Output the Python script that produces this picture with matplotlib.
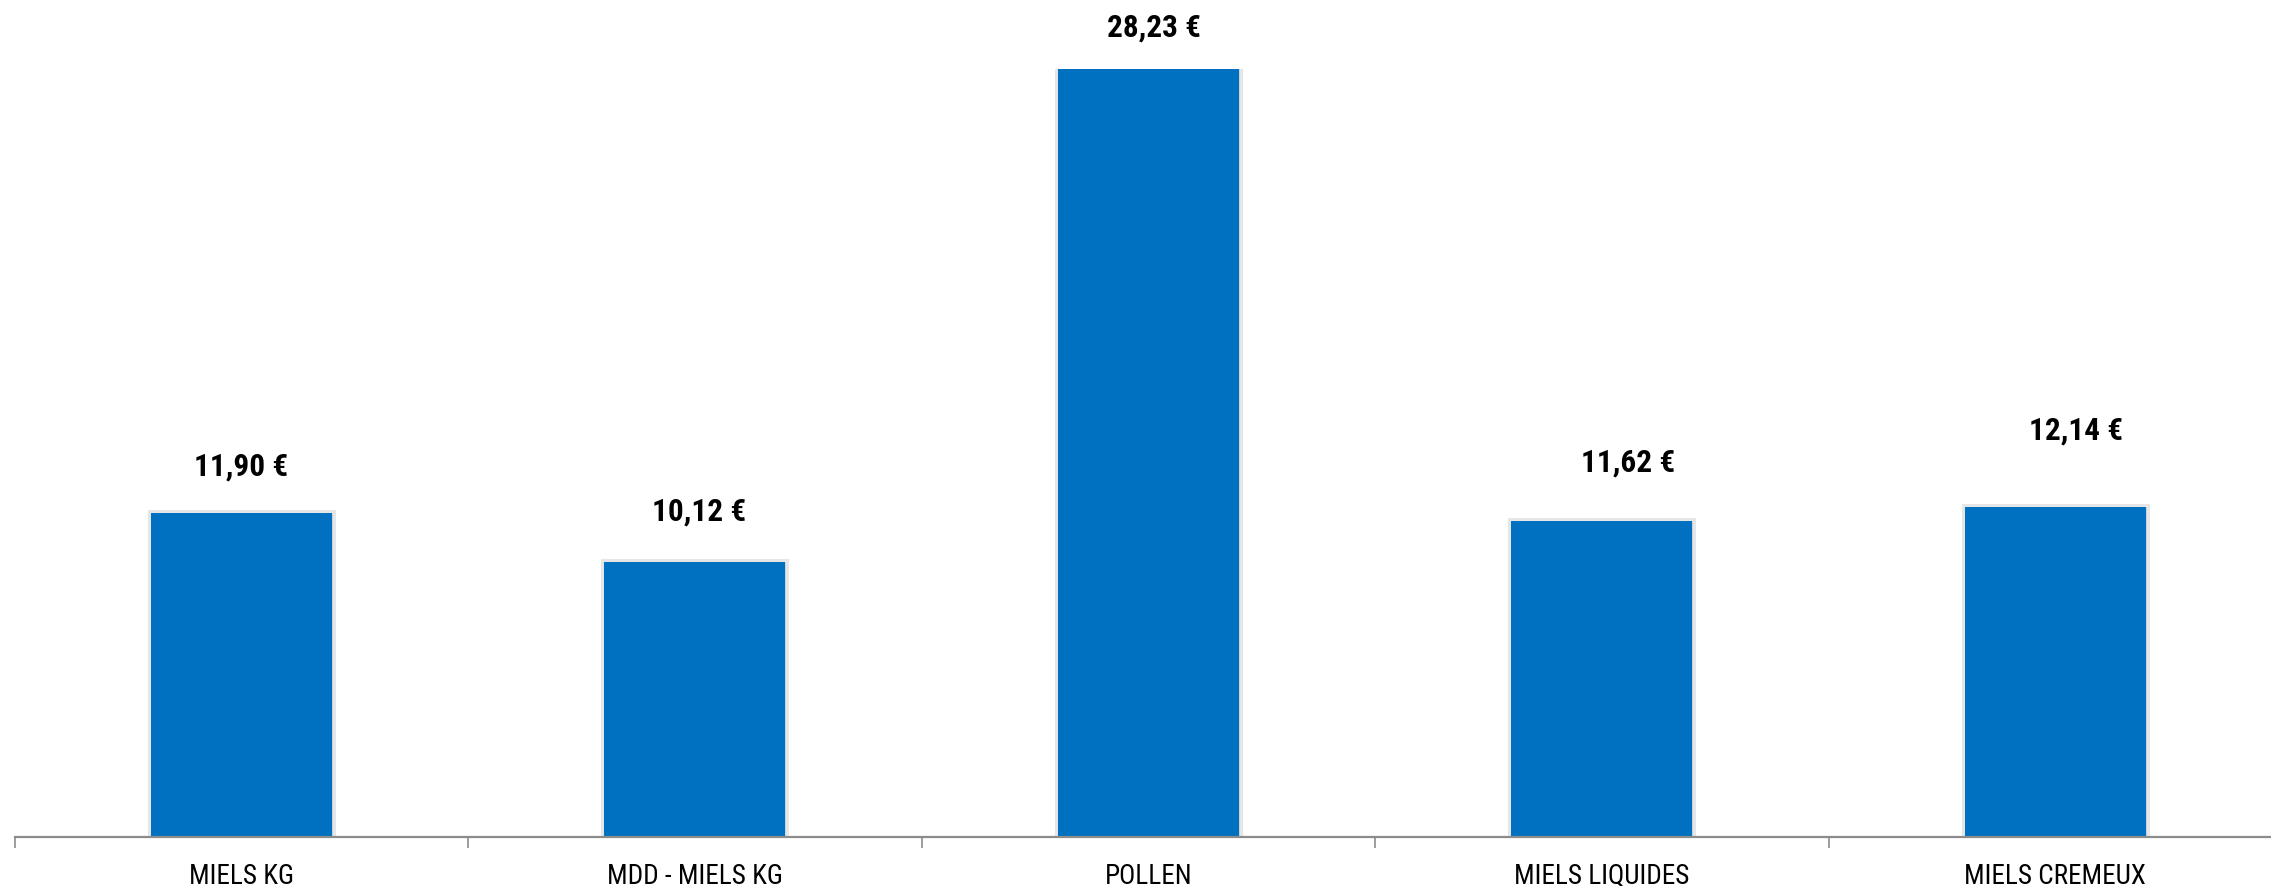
import matplotlib.pyplot as plt
import matplotlib.patheffects as pe
from matplotlib.ticker import FixedLocator, NullFormatter

plt.rcParams['font.family'] = ['Roboto Condensed', 'Roboto', 'DejaVu Sans']

# Average price per product family
categories = ["MIELS KG", "MDD - MIELS KG", "POLLEN", "MIELS LIQUIDES", "MIELS CREMEUX"]
prices = [11.90, 10.12, 28.23, 11.62, 12.14]
# label placement relative to the top of each bar, in points
label_dx = [0, 3, 4, 19, 15]
label_dy = [34, 36, 30, 42, 55]

fig = plt.figure(figsize=(22.71, 8.86), dpi=100)
ax = fig.add_axes((14.5 / 2271, 49 / 886, 5 * 453.5 / 2271, 768 / 886))

x = range(len(categories))
bars = ax.bar(x, prices, width=0.4, color="#0070C0", zorder=3,
              path_effects=[pe.Stroke(linewidth=5, foreground="#c8c8c8", alpha=0.45),
                            pe.Normal()])

for rect, val, dx, dy in zip(bars, prices, label_dx, label_dy):
    txt = f"{val:.2f}".replace(".", ",") + " €"
    ax.annotate(txt, (rect.get_x() + rect.get_width() / 2, val),
                xytext=(dx, dy), textcoords="offset points",
                ha="center", va="center", fontsize=22.5, fontweight="bold",
                color="black")

ax.set_xlim(-0.5, len(categories) - 0.5)
ax.set_ylim(0, 28.23)

for side in ("top", "right", "left"):
    ax.spines[side].set_visible(False)
ax.spines["bottom"].set_color("#8c8c8c")
ax.spines["bottom"].set_linewidth(1.6)
ax.spines["bottom"].set_zorder(4)

ax.set_yticks([])
ax.set_xticks(list(x))
ax.set_xticklabels(categories, fontsize=19.5, color="black")
ax.tick_params(axis="x", which="major", length=0, pad=19)
ax.xaxis.set_minor_locator(FixedLocator([i - 0.5 for i in range(len(categories) + 1)]))
ax.xaxis.set_minor_formatter(NullFormatter())
ax.tick_params(axis="x", which="minor", length=8, width=1.2, color="#8c8c8c")

fig.savefig("out.png", dpi=100, facecolor="white")
